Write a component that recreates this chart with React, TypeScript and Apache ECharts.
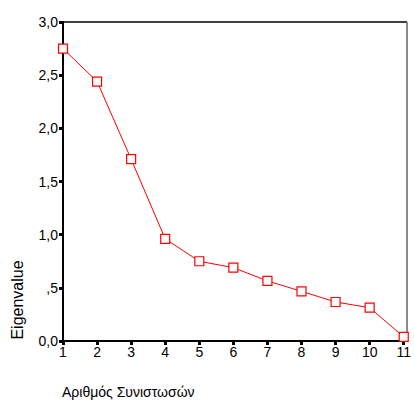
import React, { useEffect, useRef } from "react";
import * as echarts from "echarts";

const components = ["1", "2", "3", "4", "5", "6", "7", "8", "9", "10", "11"];
const eigenvalues = [2.75, 2.44, 1.71, 0.96, 0.75, 0.69, 0.565, 0.467, 0.367, 0.313, 0.038];
const yTickLabels: Record<string, string> = { "0": "0,0", "0.5": ",5", "1": "1,0", "1.5": "1,5", "2": "2,0", "2.5": "2,5", "3": "3,0" };

export default function App() {
  const ref = useRef<HTMLDivElement>(null);
  useEffect(() => {
    if (!ref.current) return;
    const chart = echarts.init(ref.current, null, { renderer: "svg" });
    const font = "'Liberation Sans', Arial, sans-serif";
    chart.setOption({
      animation: false,
      backgroundColor: "#ffffff",
      grid: { left: 63, top: 22, right: 7, bottom: 62, show: false },
      xAxis: {
        type: "value",
        min: 1,
        max: 11,
        interval: 1,
        axisLine: { show: true, onZero: false, lineStyle: { color: "#000", width: 2 } },
        axisTick: { show: true, length: 4, lineStyle: { color: "#000", width: 3 } },
        axisLabel: { color: "#000", fontSize: 14, fontFamily: font, margin: 4 },
        splitLine: { show: false },
      },
      yAxis: {
        type: "value",
        min: 0,
        max: 3,
        interval: 0.5,
        axisLine: { show: true, onZero: false, lineStyle: { color: "#000", width: 2 } },
        axisTick: { show: true, length: 4, lineStyle: { color: "#000", width: 3 } },
        axisLabel: {
          color: "#000",
          fontSize: 14,
          fontFamily: font,
          margin: 5,
          formatter: (v: number) => yTickLabels[String(v)] ?? String(v),
        },
        splitLine: { show: false },
      },
      graphic: [
        { type: "line", shape: { x1: 63, y1: 22, x2: 407, y2: 22 }, style: { stroke: "#000", lineWidth: 1.5 } },
        { type: "line", shape: { x1: 407, y1: 22, x2: 407, y2: 341 }, style: { stroke: "#666", lineWidth: 1.5 } },
        {
          type: "text",
          x: 17,
          y: 300,
          rotation: Math.PI / 2,
          style: { text: "Eigenvalue", fill: "#000", font: `16px ${font}`, textAlign: "center", textVerticalAlign: "middle" },
        },
        {
          type: "text",
          x: 62,
          y: 392,
          style: { text: "Αριθμός Συνιστωσών", fill: "#000", font: `14px ${font}`, textAlign: "left", textVerticalAlign: "middle" },
        },
      ],
      series: [
        {
          type: "line",
          data: components.map((c, i) => [Number(c), eigenvalues[i]]),
          lineStyle: { color: "#ff0000", width: 1 },
          itemStyle: { color: "#fff", borderColor: "#ff0000", borderWidth: 1.2 },
          symbol: "rect",
          symbolSize: 9,
          showSymbol: true,
        },
      ],
    });
    return () => chart.dispose();
  }, []);
  return <div ref={ref} style={{ width: 414, height: 403, position: "absolute", left: 0, top: 0 }} />;
}
